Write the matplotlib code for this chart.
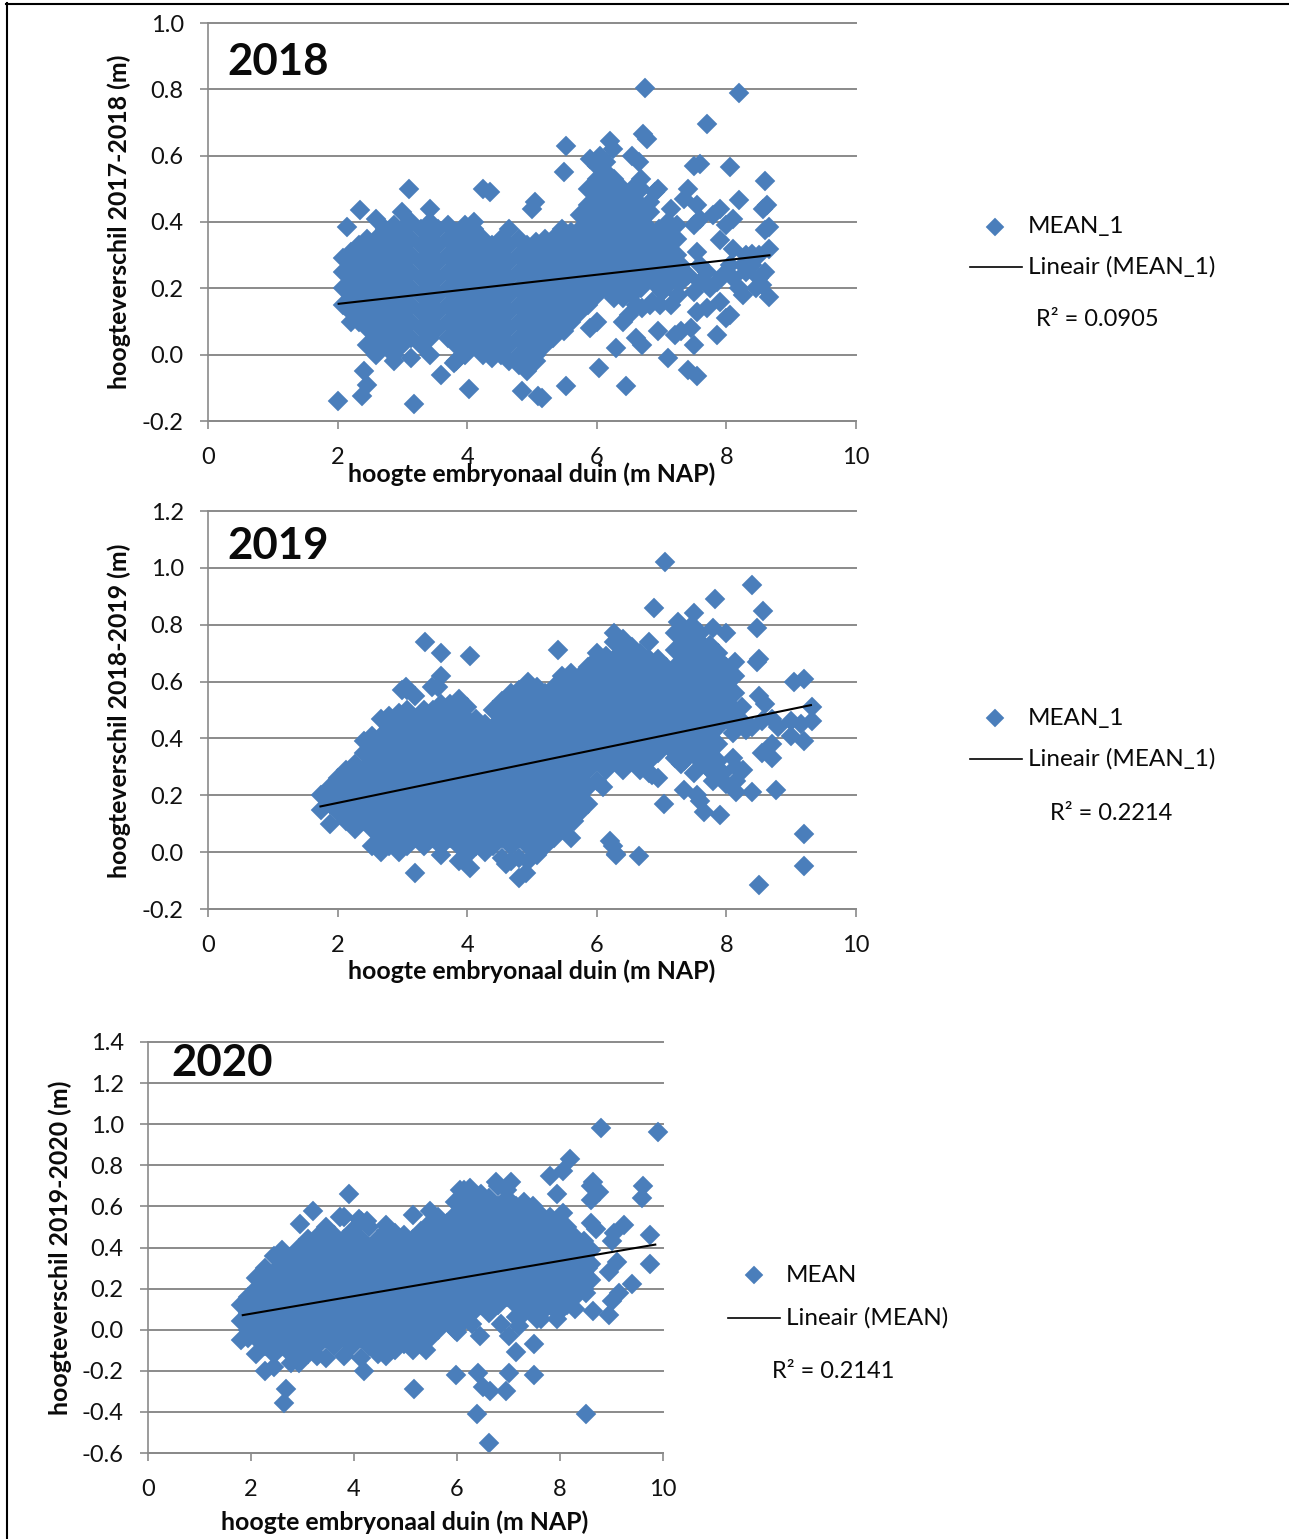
import matplotlib
matplotlib.use("Agg")
import matplotlib.pyplot as plt
from matplotlib.lines import Line2D

W, H = 1289, 1539
FONT = ["Lato", "DejaVu Sans"]
BLUE = "#4A7EBB"
GREY = "#8A8A8A"

x_ticks = [0, 2, 4, 6, 8, 10]
y_ticks_2018 = [-0.2, 0.0, 0.2, 0.4, 0.6, 0.8, 1.0]
y_ticks_2019 = [-0.2, 0.0, 0.2, 0.4, 0.6, 0.8, 1.0, 1.2]
y_ticks_2020 = [-0.6, -0.4, -0.2, 0.0, 0.2, 0.4, 0.6, 0.8, 1.0, 1.2, 1.4]

trend_x_2018 = [2.0, 8.68]
trend_y_2018 = [0.153, 0.30]
trend_x_2019 = [1.72, 9.32]
trend_y_2019 = [0.16, 0.518]
trend_x_2020 = [1.82, 9.87]
trend_y_2020 = [0.07, 0.415]

cols_2018 = {
2.08:[.15,.2,.25,.29], 2.2:[.1,.13,.18,.23,.28,.31], 2.33:[.1,.15,.2,.25,.3,.33],
2.46:[.03,.08,.13,.18,.23,.28,.33,.35], 2.6:[.0,.05,.1,.15,.2,.25,.3,.35,.41],
2.73:[.03,.08,.13,.18,.23,.28,.33,.38], 2.87:[-.02,.0,.05,.1,.15,.2,.25,.3,.35,.39],
3.0:[.03,.08,.13,.18,.23,.28,.33,.38,.43], 3.14:[-.01,.05,.1,.15,.2,.25,.3,.35,.4],
3.28:[.03,.08,.13,.18,.23,.28,.33,.38], 3.42:[.0,.05,.1,.15,.2,.25,.3,.35,.4,.44],
3.55:[.08,.13,.18,.23,.28,.33,.38], 3.7:[.05,.1,.15,.2,.25,.3,.35,.39],
3.83:[-.02,.03,.08,.13,.18,.23,.28,.33,.37], 3.97:[.0,.05,.1,.15,.2,.25,.3,.35,.39],
4.1:[.03,.08,.13,.18,.23,.28,.33,.38,.4], 4.25:[.0,.05,.1,.15,.2,.25,.3,.35],
4.38:[-.01,.03,.08,.13,.18,.23,.28,.33], 4.52:[.0,.05,.1,.15,.2,.25,.3,.35],
4.65:[-.02,.03,.08,.13,.18,.23,.28,.33,.38], 4.8:[-.03,.0,.05,.1,.15,.2,.25,.3,.35],
4.93:[-.05,-.02,.03,.08,.13,.18,.23,.28,.33], 5.06:[-.02,.0,.05,.1,.15,.2,.25,.3,.34],
5.2:[.03,.08,.13,.18,.23,.28,.33,.35], 5.33:[.05,.1,.15,.2,.25,.3,.35],
5.47:[.08,.13,.18,.23,.28,.33,.38], 5.6:[.1,.15,.2,.25,.3,.35,.37],
5.74:[.13,.18,.23,.28,.33,.38,.42], 5.87:[.15,.2,.25,.3,.35,.4,.45,.5],
6.0:[.18,.23,.28,.33,.38,.43,.48,.53,.57], 6.14:[.2,.25,.3,.35,.4,.45,.5,.55,.58],
6.27:[.17,.23,.28,.33,.38,.43,.48,.53], 6.4:[.17,.2,.25,.3,.35,.4,.45,.5],
6.54:[.18,.23,.28,.33,.38,.43,.48,.5], 6.68:[.2,.25,.3,.35,.4,.45,.5,.53],
6.82:[.15,.23,.28,.33,.38,.43,.46], 6.96:[.2,.25,.3,.35,.38],
7.1:[.23,.28,.33,.37,.4], 7.24:[.25,.3,.35,.39],
}
extra_2018 = [(2.0,-.14),(2.15,.385),(2.35,.435),(2.4,-.05),(2.45,-.09),(2.38,-.125),(3.1,.5),
(4.25,.5),(4.35,.49),(5.0,.44),(5.05,.46),(3.6,-.06),(3.8,-.025),
(6.75,.805),(8.2,.79),(7.7,.695),(6.72,.665),(6.78,.65),(6.2,.645),(6.25,.62),(5.53,.63),(6.55,.6),
(6.65,.58),(5.9,.59),(6.05,.6),(7.5,.57),(7.6,.575),(8.05,.565),(5.5,.55),(8.6,.525),(7.4,.5),(7.35,.47),
(7.55,.45),(6.9,.49),(6.95,.5),(8.2,.465),(8.57,.44),(8.62,.45),(7.15,.44),(7.9,.44),(7.8,.42),(8.1,.41),
(8.0,.39),(7.5,.39),(7.6,.41),(8.6,.375),(8.65,.385),(8.65,.32),(8.4,.305),(8.1,.32),(7.55,.31),(7.9,.345),
(8.5,.3),(8.6,.25),(8.5,.23),(8.3,.25),(8.2,.2),(8.25,.18),(8.65,.175),(8.55,.21),(7.5,.19),(7.3,.22),
(7.1,.21),(7.85,.22),(7.9,.16),(7.7,.14),(7.55,.13),(8.0,.11),(8.05,.12),(7.85,.06),(7.45,.08),(7.3,.07),
(7.2,.06),(7.15,.15),(6.85,.16),(6.95,.07),(6.6,.05),(6.7,.03),(6.5,.12),(6.4,.1),(6.3,.02),(6.0,.1),
(5.9,.08),(6.03,-.04),(6.45,-.095),(5.53,-.095),(7.1,-.01),(7.5,.03),(7.4,-.045),(7.55,-.065),(5.1,-.125),
(5.15,-.13),(4.85,-.11),(4.03,-.105),(3.18,-.15),(8.4,.27),(8.45,.2),(7.7,.25),(7.3,.27),(7.4,.24),(6.98,.15),
(7.75,.2),(7.95,.24),(8.1,.23),(8.3,.3),(5.5,.07),(7.6,.27),(8.05,.27),(8.25,.27),(7.0,.19),(6.7,.14),
(7.25,.18),(7.6,.22),(6.6,.15),
]

cols_2019 = {
1.75:[.15,.2], 1.88:[.1,.17,.23], 2.0:[.14,.2,.26], 2.13:[.11,.17,.23,.29],
2.27:[.08,.14,.2,.26,.31], 2.4:[.11,.17,.23,.29,.35,.39], 2.53:[.02,.08,.14,.2,.26,.32,.38,.41],
2.67:[.0,.05,.11,.17,.23,.29,.35,.41,.47], 2.8:[.02,.08,.14,.2,.26,.32,.38,.44,.48],
2.94:[.0,.05,.11,.17,.23,.29,.35,.41,.47,.49], 3.07:[.02,.08,.14,.2,.26,.32,.38,.44,.5,.57],
3.2:[.05,.11,.17,.23,.29,.35,.41,.47], 3.34:[.02,.08,.14,.2,.26,.32,.38,.44,.5],
3.47:[.05,.11,.17,.23,.29,.35,.41,.47,.5], 3.6:[-.01,.02,.08,.14,.2,.26,.32,.38,.44,.5,.52],
3.74:[.05,.11,.17,.23,.29,.35,.41,.47,.52], 3.87:[-.03,.02,.08,.14,.2,.26,.32,.38,.44,.5,.54],
4.0:[-.01,.05,.11,.17,.23,.29,.35,.41,.47,.51], 4.14:[.02,.08,.14,.2,.26,.32,.38,.44,.47],
4.28:[.0,.05,.11,.17,.23,.29,.35,.41,.45], 4.4:[.02,.08,.14,.2,.26,.32,.38,.44,.5],
4.54:[-.02,.05,.11,.17,.23,.29,.35,.41,.47,.53], 4.67:[-.03,.02,.08,.14,.2,.26,.32,.38,.44,.5,.56],
4.8:[-.02,.05,.11,.17,.23,.29,.35,.41,.47,.53,.57], 4.94:[-.03,.02,.08,.14,.2,.26,.32,.38,.44,.5,.56,.6],
5.07:[-.01,.05,.11,.17,.23,.29,.35,.41,.47,.53,.58], 5.2:[.02,.08,.14,.2,.26,.32,.38,.44,.5,.56],
5.34:[.05,.11,.17,.23,.29,.35,.41,.47,.53,.58], 5.47:[.08,.14,.2,.26,.32,.38,.44,.5,.56,.62],
5.6:[.11,.17,.23,.29,.35,.41,.47,.53,.59,.63], 5.74:[.14,.2,.26,.32,.38,.44,.5,.56,.62],
5.87:[.17,.23,.29,.35,.41,.47,.53,.59,.65], 6.0:[.25,.32,.38,.44,.5,.56,.62,.68,.7],
6.14:[.29,.35,.41,.47,.53,.59,.65,.69], 6.27:[.32,.38,.44,.5,.56,.62,.68,.74,.77],
6.4:[.29,.35,.41,.47,.53,.59,.65,.71,.75], 6.54:[.32,.38,.44,.5,.56,.62,.68,.72],
6.67:[.29,.35,.41,.47,.53,.59,.65,.7], 6.8:[.28,.32,.38,.44,.5,.56,.62,.68,.74],
6.94:[.35,.41,.47,.53,.59,.65,.68], 7.07:[.38,.44,.5,.56,.62,.65],
7.2:[.35,.41,.47,.53,.59,.65,.71,.77], 7.34:[.32,.38,.44,.5,.56,.62,.68,.74,.78],
7.47:[.35,.41,.47,.53,.59,.65,.71,.77,.8], 7.6:[.32,.38,.44,.5,.56,.62,.68,.74,.77],
7.74:[.29,.35,.41,.47,.53,.59,.65,.71,.73], 7.87:[.32,.38,.44,.5,.56,.62,.68,.7],
8.0:[.47,.53,.59,.65], 8.13:[.44,.5,.56,.62,.67], 8.24:[.46,.51],
}
extra_2019 = [(3.0,.57),(3.05,.58),(3.2,.55),(3.45,.58),(3.6,.62),(3.35,.74),(3.6,.7),(4.05,.69),(4.05,-.055),
(4.8,-.09),(4.9,-.075),(5.4,.71),(3.55,.58),(3.85,.52),
(7.05,1.02),(8.4,.94),(7.83,.89),(6.88,.86),(8.57,.85),(7.25,.81),(7.5,.84),(7.8,.79),(8.0,.77),(8.47,.79),
(8.5,.68),(8.47,.67),(9.05,.6),(9.2,.61),(8.5,.55),(8.6,.52),(9.32,.51),(9.32,.46),(9.0,.46),(9.15,.45),
(8.8,.44),(9.0,.41),(9.2,.39),(8.7,.38),(8.55,.35),(8.7,.33),(8.15,.3),(8.25,.29),(8.15,.25),(8.0,.24),
(8.77,.22),(8.4,.21),(8.15,.21),(7.35,.22),(7.55,.2),(7.6,.18),(7.65,.14),(7.9,.13),(7.03,.17),(6.1,.23),
(6.85,.27),(6.95,.26),(7.2,.33),(7.3,.31),(7.5,.28),(5.65,.11),(5.6,.05),(6.2,.04),(6.25,.02),(6.3,-.005),
(6.3,-.01),(6.65,-.015),(8.5,-.115),(9.2,.065),(9.2,-.05),(3.2,-.075),(4.6,-.04),
(8.3,.43),(8.4,.44),(8.55,.46),(8.7,.47),(8.1,.33),(7.8,.25),(7.95,.28),(7.7,.3),(8.1,.42),
]

cols_2020 = {
1.8:[-.05,.04,.12], 1.95:[-.04,.0,.08,.16], 2.1:[-.12,-.04,.04,.12,.2,.25],
2.27:[-.2,-.08,.0,.08,.16,.24,.3], 2.44:[-.18,-.12,-.04,.04,.12,.2,.28,.36],
2.6:[-.08,.0,.08,.16,.24,.32,.39], 2.77:[-.16,-.12,-.04,.04,.12,.2,.28,.35],
2.94:[-.16,-.08,.0,.08,.16,.24,.32,.4], 3.1:[-.12,-.04,.04,.12,.2,.28,.36,.44],
3.28:[-.13,-.08,.0,.08,.16,.24,.32,.4,.45], 3.45:[-.14,-.04,.04,.12,.2,.28,.36,.44,.5],
3.62:[-.08,.0,.08,.16,.24,.32,.4,.46], 3.8:[-.13,-.04,.04,.12,.2,.28,.36,.44,.55],
3.96:[-.08,.0,.08,.16,.24,.32,.4,.48], 4.13:[-.14,-.04,.04,.12,.2,.28,.36,.44,.53],
4.3:[-.08,.0,.08,.16,.24,.32,.4,.5], 4.46:[-.12,-.04,.04,.12,.2,.28,.36,.44],
4.63:[-.13,-.08,.0,.08,.16,.24,.32,.4,.48,.51], 4.8:[-.1,-.04,.04,.12,.2,.28,.36,.44,.47],
4.97:[-.07,.0,.08,.16,.24,.32,.4,.46], 5.14:[-.05,.04,.12,.2,.28,.36,.44,.56],
5.3:[-.07,.0,.08,.16,.24,.32,.4,.48], 5.47:[-.04,.04,.12,.2,.28,.36,.44,.52,.58],
5.64:[.0,.08,.16,.24,.32,.4,.48,.55], 5.8:[.04,.12,.2,.28,.36,.44,.52],
5.97:[.0,.08,.16,.24,.32,.4,.48,.56,.62], 6.14:[.04,.12,.2,.28,.36,.44,.52,.6,.68],
6.3:[.03,.08,.16,.24,.32,.4,.48,.56,.64], 6.47:[.12,.2,.28,.36,.44,.52,.6,.66],
6.63:[.08,.16,.24,.32,.4,.48,.56,.64], 6.8:[.12,.2,.28,.36,.44,.52,.6,.7],
6.97:[.16,.24,.32,.4,.48,.56,.64,.68], 7.14:[.06,.12,.2,.28,.36,.44,.52,.6],
7.3:[.08,.16,.24,.32,.4,.48,.56,.62], 7.47:[.12,.2,.28,.36,.44,.52,.6],
7.63:[.05,.08,.16,.24,.32,.4,.48,.56], 7.8:[.12,.2,.28,.36,.44,.52,.55],
7.97:[.08,.16,.24,.32,.4,.48,.5], 8.13:[.12,.2,.28,.36,.44,.5],
8.3:[.16,.24,.32,.4,.45], 8.47:[.2,.28,.36,.43], 8.6:[.24,.32,.39],
}
extra_2020 = [(2.68,-.29),(2.65,-.355),(2.95,.515),(3.2,.58),(3.9,.66),(4.2,-.2),(3.72,.55),(4.1,.54),(4.25,.53),
(6.75,.72),(7.05,.72),(6.25,.69),(6.05,.68),
(8.8,.98),(9.9,.96),(8.2,.83),(7.8,.75),(8.05,.77),(8.6,.7),(8.65,.72),(8.75,.67),(8.6,.63),(9.62,.7),
(9.6,.64),(7.95,.66),(8.05,.57),(8.6,.52),(8.7,.49),(9.25,.51),(9.05,.47),(9.0,.43),(9.75,.46),(9.75,.32),
(9.1,.33),(8.95,.28),(9.4,.22),(9.15,.18),(9.0,.14),(8.95,.07),(8.65,.09),(8.5,.18),(7.95,.05),(7.55,.05),
(7.5,-.07),(7.15,-.11),(7.0,-.03),(6.85,.03),(7.2,.02),(6.45,-.03),(6.0,-.01),(5.4,-.1),(5.15,-.1),
(5.17,-.29),(5.98,-.22),(6.4,-.21),(6.5,-.28),(6.65,-.3),(6.95,-.3),(7.0,-.21),(7.5,-.22),(6.38,-.41),
(8.5,-.41),(6.62,-.55),(8.55,.3),(8.45,.25),(8.3,.1),
]


def flat(cols, extra):
    xs = [x for x, ys in cols.items() for _ in ys] + [p[0] for p in extra]
    ys = [y for vals in cols.values() for y in vals] + [p[1] for p in extra]
    return xs, ys


fig = plt.figure(figsize=(W / 100, H / 100), dpi=100, facecolor="white")


def fx(px):
    return px / W


def fy(py):
    return 1 - py / H


def txt(px, py, s, **kw):
    kw.setdefault("family", FONT)
    kw.setdefault("va", "center")
    kw.setdefault("color", "#0A0A0A")
    fig.text(fx(px), fy(py), s, **kw)


def panel(x0, x1, ytop, ybot, yticks, xs, ys, tx, ty):
    ax = fig.add_axes([fx(x0), fy(ybot), fx(x1 - x0), (ybot - ytop) / H])
    ax.set_xlim(0, 10)
    ax.set_ylim(yticks[0], yticks[-1])
    ax.set_xticks(x_ticks)
    ax.set_yticks(yticks)
    ax.set_yticklabels([f"{v:.1f}" for v in yticks])
    ax.grid(axis="y", color=GREY, lw=1.4, clip_on=False)
    ax.set_axisbelow(True)
    for side in ("top", "right"):
        ax.spines[side].set_visible(False)
    for side in ("left", "bottom"):
        ax.spines[side].set_color(GREY)
        ax.spines[side].set_linewidth(1.2)
    ax.tick_params(axis="both", color=GREY, width=1.2, length=5.5, labelsize=17,
                   labelcolor="#111111")
    ax.tick_params(axis="x", pad=13)
    ax.tick_params(axis="y", pad=12)
    for lab in ax.get_xticklabels() + ax.get_yticklabels():
        lab.set_family(FONT)
    ax.plot(xs, ys, ls="none", marker="D", ms=9.8, mfc=BLUE, mec=BLUE, mew=0.3, clip_on=False)
    ax.plot(tx, ty, color="black", lw=1.5, solid_capstyle="butt")
    return ax


x18, y18 = flat(cols_2018, extra_2018)
x19, y19 = flat(cols_2019, extra_2019)
x20, y20 = flat(cols_2020, extra_2020)

panel(208, 856, 23, 421, y_ticks_2018, x18, y18, trend_x_2018, trend_y_2018)
panel(208, 856, 511, 909, y_ticks_2019, x19, y19, trend_x_2019, trend_y_2019)
panel(148, 663, 1042, 1453, y_ticks_2020, x20, y20, trend_x_2020, trend_y_2020)

LABSIZE = 17.9
TITLESIZE = 31.5
xlabel = "hoogte embryonaal duin (m NAP)"
txt(532, 474, xlabel, ha="center", fontsize=LABSIZE, fontweight="bold")
txt(532, 971, xlabel, ha="center", fontsize=LABSIZE, fontweight="bold")
txt(405, 1522, xlabel, ha="center", fontsize=LABSIZE, fontweight="bold")
txt(119, 222, "hoogteverschil 2017-2018 (m)", ha="center", rotation=90, fontsize=LABSIZE, fontweight="bold")
txt(119, 711, "hoogteverschil 2018-2019 (m)", ha="center", rotation=90, fontsize=LABSIZE, fontweight="bold")
txt(60, 1248, "hoogteverschil 2019-2020 (m)", ha="center", rotation=90, fontsize=LABSIZE, fontweight="bold")
txt(278, 62, "2018", ha="center", fontsize=TITLESIZE, fontweight="bold")
txt(278, 546, "2019", ha="center", fontsize=TITLESIZE, fontweight="bold")
txt(222, 1063, "2020", ha="center", fontsize=TITLESIZE, fontweight="bold")


def legend(dx, dy, tx, ly, l0, l1, name, r2x, r2y, r2):
    fig.add_artist(Line2D([fx(dx)], [fy(dy)], transform=fig.transFigure, ls="none", marker="D",
                          ms=9.6, mfc=BLUE, mec=BLUE, mew=0.3))
    txt(tx, dy, name, ha="left", fontsize=17.5)
    fig.add_artist(Line2D([fx(l0), fx(l1)], [fy(ly), fy(ly)], transform=fig.transFigure,
                          color="black", lw=1.2))
    txt(tx, ly, f"Lineair ({name})", ha="left", fontsize=17.5)
    txt(r2x, r2y, r2, ha="left", fontsize=17)


legend(995, 227, 1028, 267, 970, 1022, "MEAN_1", 1036, 320, "R² = 0.0905")
legend(995, 718, 1028, 759, 970, 1022, "MEAN_1", 1050, 813, "R² = 0.2214")
legend(754, 1275, 786, 1318, 728, 780, "MEAN", 772, 1372, "R² = 0.2141")

# page frame at the top and left of the scanned figure
fig.add_artist(Line2D([fx(6), 1], [fy(3.5), fy(3.5)], transform=fig.transFigure, color="black", lw=1.5))
fig.add_artist(Line2D([fx(6.5), fx(6.5)], [fy(3), 0], transform=fig.transFigure, color="black", lw=1.5))

fig.savefig("out.png", dpi=100, facecolor="white")
